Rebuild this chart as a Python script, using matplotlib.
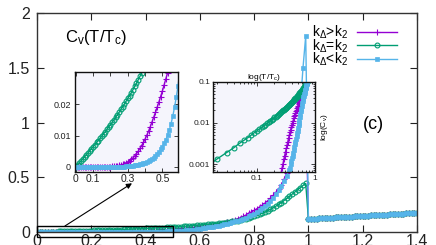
import numpy as np
import matplotlib
matplotlib.use('Agg')
import matplotlib.pyplot as plt
from matplotlib.patches import Rectangle

plt.rcParams['font.family'] = ['Liberation Sans', 'DejaVu Sans']
plt.rcParams['mathtext.fontset'] = 'custom'
plt.rcParams['mathtext.rm'] = 'Liberation Sans'
plt.rcParams['mathtext.it'] = 'Liberation Sans:italic'
plt.rcParams['mathtext.bf'] = 'Liberation Sans:bold'

# T/Tc grid, one point every 0.01
t_sc = np.arange(100) / 100.0          # 0.00 ... 0.99 (superconducting)
t_norm = 1.0 + np.arange(41) / 100.0   # 1.00 ... 1.40 (normal state)

# k_Delta > k_2
cv_gt = [0, 0, 0, 0, 0, 0, 0, 0, 0, 0,
         0, 0, 0, 0, 0, 0, 0, 0,
         0.0001, 0.0001, 0.0001, 0.0002, 0.0002, 0.0003, 0.0004, 0.0005, 0.0006, 0.0008, 0.0010, 0.0013,
         0.0016, 0.0020, 0.0024, 0.0029, 0.0035, 0.0042, 0.0050, 0.0059, 0.0068, 0.0078,
         0.0089, 0.0101, 0.0114, 0.0128, 0.0143, 0.0158, 0.0174, 0.0190, 0.0207, 0.0224,
         0.0242, 0.0261, 0.0280, 0.0300, 0.0321, 0.0343, 0.0366, 0.0390, 0.0415, 0.0441,
         0.047, 0.050, 0.053, 0.056, 0.059, 0.0625, 0.066, 0.070, 0.075, 0.081,
         0.088, 0.095, 0.103, 0.112, 0.121, 0.131, 0.142, 0.155, 0.169, 0.183,
         0.197, 0.212, 0.228, 0.245, 0.264, 0.285, 0.308, 0.334, 0.362, 0.394,
         0.430, 0.480, 0.540, 0.600, 0.670, 0.750, 0.840, 0.940, 1.060, 1.200]

# k_Delta = k_2
cv_eq = [0.0000, 0.0006, 0.0013, 0.0019, 0.0025, 0.0032, 0.0038, 0.0044, 0.0051, 0.0058,
         0.0064, 0.0071, 0.0078, 0.0084, 0.0091, 0.0098, 0.0105, 0.0112, 0.0120, 0.0127,
         0.0135, 0.0142, 0.0150, 0.0158, 0.0166, 0.0174, 0.0183, 0.0191, 0.0200, 0.0209,
         0.0218, 0.0227, 0.0236, 0.0246, 0.0256, 0.0266, 0.0277, 0.0288, 0.0298, 0.0310,
         0.0321, 0.0333, 0.0345, 0.0357, 0.0370, 0.0383, 0.0396, 0.0410, 0.0424, 0.0438,
         0.0453, 0.0468, 0.0484, 0.0500, 0.0517, 0.0534, 0.0552, 0.0570, 0.0589, 0.0609,
         0.063, 0.065, 0.067, 0.070, 0.072, 0.075, 0.077, 0.080, 0.083, 0.086,
         0.089, 0.093, 0.097, 0.101, 0.105, 0.110, 0.116, 0.122, 0.129, 0.136,
         0.144, 0.152, 0.161, 0.171, 0.182, 0.194, 0.207, 0.221, 0.236, 0.252,
         0.269, 0.287, 0.306, 0.326, 0.346, 0.366, 0.386, 0.406, 0.425, 0.443]

# k_Delta < k_2
cv_lt = [0, 0, 0, 0, 0, 0, 0, 0, 0, 0,
         0, 0, 0, 0, 0, 0, 0, 0, 0, 0,
         0, 0, 0, 0, 0, 0,
         0.0001, 0.0001, 0.0001, 0.0002,
         0.0002, 0.0003, 0.0003, 0.0004, 0.0005, 0.0006, 0.0007, 0.0008, 0.0010, 0.0012,
         0.0014, 0.0016, 0.0019, 0.0022, 0.0026, 0.0030, 0.0035, 0.0041, 0.0048, 0.0056,
         0.0065, 0.0075, 0.0087, 0.0101, 0.0118, 0.0138, 0.0162, 0.0190, 0.0222, 0.0258,
         0.0298, 0.0340, 0.0380, 0.0420, 0.0460, 0.0500, 0.054, 0.059, 0.064, 0.070,
         0.076, 0.082, 0.089, 0.096, 0.104, 0.113, 0.122, 0.132, 0.143, 0.155,
         0.168, 0.182, 0.198, 0.216, 0.236, 0.258, 0.283, 0.311, 0.343, 0.380,
         0.420, 0.465, 0.515, 0.580, 0.660, 0.770, 0.920, 1.150, 1.500, 1.790]

# normal state, the three curves coincide
cv_normal = [0.119, 0.120, 0.122, 0.123, 0.125, 0.126, 0.127, 0.129, 0.130, 0.131,
             0.133, 0.134, 0.136, 0.137, 0.138, 0.140, 0.141, 0.142, 0.144, 0.145,
             0.147, 0.148, 0.149, 0.151, 0.152, 0.153, 0.155, 0.156, 0.158, 0.159,
             0.160, 0.162, 0.163, 0.164, 0.166, 0.167, 0.169, 0.170, 0.171, 0.173,
             0.174]

labels = [r'k$_\Delta$>k$_2$', r'k$_\Delta$=k$_2$', r'k$_\Delta$<k$_2$']

t_all = np.concatenate([t_sc, t_norm])
series = [
    (labels[0], cv_gt, dict(color='#9400d3', marker='+', ms=4, mew=0.8)),
    (labels[1], cv_eq, dict(color='#009e73', marker='o', ms=3.5, mew=0.8, mfc='none')),
    (labels[2], cv_lt, dict(color='#56b4e9', marker='s', ms=2.5, mew=0.5)),
]


def draw(ax, log=False):
    for lab, cv, st in series:
        y = np.concatenate([cv, cv_normal])
        x = t_all
        if log:
            keep = y > 0
            x, y = x[keep], y[keep]
        ax.plot(x, y, lw=1, label=lab, **st)


W, H = 436, 245
fig = plt.figure(figsize=(W / 100, H / 100), dpi=100)

# main panel
ax = fig.add_axes([37 / W, 1 - 232 / H, 380 / W, 219 / H])
draw(ax)
ax.set_xlim(0, 1.4)
ax.set_ylim(0, 2)
ax.set_xticks([0, 0.2, 0.4, 0.6, 0.8, 1.0, 1.2, 1.4])
ax.set_xticklabels(['0', '0.2', '0.4', '0.6', '0.8', '1', '1.2', '1.4'])
ax.set_yticks([0, 0.5, 1, 1.5, 2])
ax.set_yticklabels(['0', '0.5', '1', '1.5', '2'])
ax.tick_params(direction='in', top=True, right=True, length=5, width=0.8,
               labelsize=11.5, colors='#222222')
ax.tick_params(axis='x', pad=1.5)
ax.tick_params(axis='y', pad=5)
for s in ax.spines.values():
    s.set_linewidth(1)
    s.set_color('#333333')

ax.text(0.103, 1.78, r'C$_\mathrm{v}$(T/T$_\mathrm{c}$)', fontsize=12, va='center', ha='left')
ax.text(1.238, 0.98, '(c)', fontsize=13, va='center', ha='center')

leg = ax.legend(loc='upper right', bbox_to_anchor=(0.962, 0.975), frameon=False,
                markerfirst=False, fontsize=10, handlelength=2.9,
                labelspacing=-0.3, handletextpad=0.65, borderaxespad=0,
                numpoints=1)

ax.add_patch(Rectangle((0, -0.045), 0.5, 0.1, fill=False, ec='black', lw=1,
                       clip_on=False, zorder=5))
ax.annotate('', xy=(0.35, 0.445), xytext=(0.103, 0.055),
            arrowprops=dict(arrowstyle='-|>', color='black', lw=0.8,
                            mutation_scale=8, shrinkA=0, shrinkB=0))

# linear zoom inset
ax1 = fig.add_axes([75 / W, 1 - 172 / H, 103 / W, 100 / H], facecolor='#f5f5fc')
draw(ax1)
ax1.set_xlim(-0.005, 0.59)
ax1.set_ylim(-0.0016, 0.0302)
ax1.set_xticks([0, 0.1, 0.2, 0.3, 0.4, 0.5])
ax1.set_xticklabels(['0', '0.1', '', '0.3', '', '0.5'])
ax1.set_yticks([0, 0.01, 0.02])
ax1.set_yticklabels(['0', '0.01', '0.02'])
ax1.tick_params(direction='in', top=True, right=True, length=3, width=0.6, colors='#222222')
ax1.tick_params(axis='x', labelsize=7.5, pad=1.5)
ax1.tick_params(axis='y', labelsize=6.5, pad=3)

# log-log inset
ax2 = fig.add_axes([213 / W, 1 - 172 / H, 102 / W, 90.3 / H], facecolor='#f5f5fc')
draw(ax2, log=True)
ax2.set_xscale('log')
ax2.set_yscale('log')
ax2.set_xlim(0.0174, 1.0)
ax2.set_ylim(0.00064, 0.1)
ax2.set_xticks([0.1, 1])
ax2.set_xticklabels(['0.1', '1'])
ax2.set_yticks([0.001, 0.01, 0.1])
ax2.set_yticklabels(['0.001', '0.01', '0.1'])
ax2.tick_params(which='both', direction='in', top=True, right=True, width=0.6, colors='#222222')
ax2.tick_params(which='major', length=3, labelsize=6, pad=2)
ax2.tick_params(which='minor', length=1.5)
ax2.set_xlabel(r'log(T/T$_\mathrm{c}$)', fontsize=6, labelpad=2)
ax2.xaxis.set_label_position('top')
ax2.set_ylabel(r'log(C$_\mathrm{v}$)', fontsize=6, labelpad=3)
ax2.yaxis.set_label_position('right')

for a in (ax1, ax2):
    for s in a.spines.values():
        s.set_linewidth(1)
        s.set_color('#111111')

fig.savefig('out.png', dpi=100)
